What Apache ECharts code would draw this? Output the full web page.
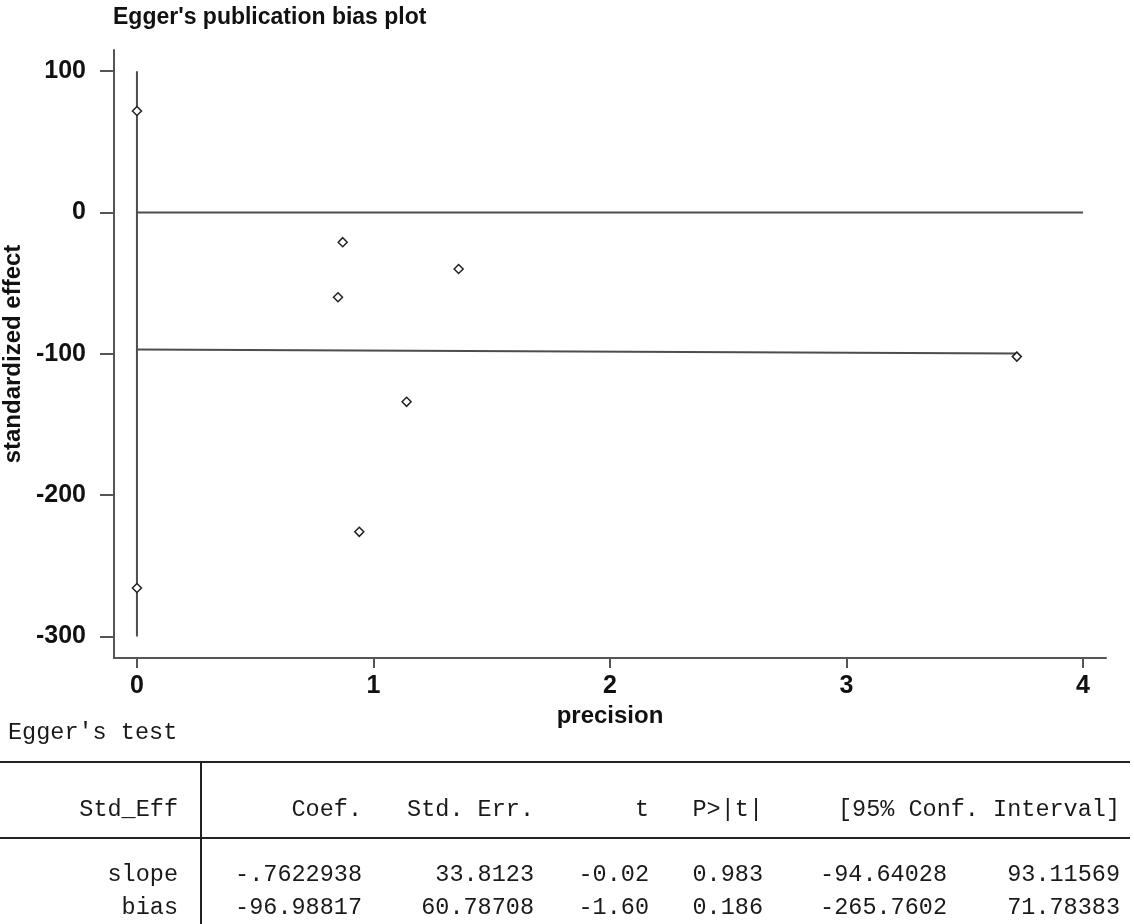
<!DOCTYPE html>
<html>
<head>
<meta charset="utf-8">
<title>Egger's publication bias plot</title>
<script src="https://cdn.jsdelivr.net/npm/echarts@6/dist/echarts.min.js"></script>
<style>
  html, body { margin: 0; padding: 0; background: #fff; }
  #main { width: 1134px; height: 924px; }
</style>
</head>
<body>
<div id="main"></div>
<script>
// study points: precision vs standardized effect
var precision = [0.87, 0.85, 1.36, 1.14, 0.94, 3.72];
var stdEffect = [-21, -60, -40, -134, -226, -102];
// diamonds drawn on the y axis line (x = 0)
var axisPoints = [71.8, -265.8];
// fitted Egger line, ends
var fitX = [0, 3.72];
var fitY = [-97.0, -99.8];
// reference lines
var zeroLineX = [0, 4];
var zeroLineY = [0, 0];
var vertLineY = [100, -300];
var xTicks = [0, 1, 2, 3, 4];
var yTicks = [100, 0, -100, -200, -300];

// Egger's test table
var tableHead = ['Std_Eff', 'Coef.', 'Std. Err.', 't', 'P>|t|', '[95% Conf. Interval]'];
var rowNames = ['slope', 'bias'];
var rowSlope = ['-.7622938', '33.8123', '-0.02', '0.983', '-94.64028', '93.11569'];
var rowBias = ['-96.98817', '60.78708', '-1.60', '0.186', '-265.7602', '71.78383'];

var mono = '"Liberation Mono", "DejaVu Sans Mono", monospace';
var sans = '"Liberation Sans", Arial, sans-serif';

function pairs(xs, ys) {
  var out = [];
  for (var i = 0; i < xs.length; i++) out.push([xs[i], ys[i]]);
  return out;
}

var scatterData = pairs(precision, stdEffect).concat(axisPoints.map(function (v) { return [0, v]; }));

// table as graphic elements
var colRight = [178, 362, 534, 649, 763, 947, 1120];
var txtStyle = { font: '23.5px ' + mono, fill: '#1a1a1a', textAlign: 'right', textVerticalAlign: 'middle' };
function txt(str, x, y, align) {
  var s = Object.assign({}, txtStyle, { text: str, x: x, y: y });
  if (align) s.textAlign = align;
  return { type: 'text', style: s, silent: true };
}
var graphics = [];
graphics.push(txt("Egger's test", 8, 733, 'left'));
graphics.push({ type: 'line', shape: { x1: 0, y1: 762, x2: 1130, y2: 762 }, style: { stroke: '#222', lineWidth: 2 } });
graphics.push({ type: 'line', shape: { x1: 0, y1: 838, x2: 1130, y2: 838 }, style: { stroke: '#222', lineWidth: 2 } });
graphics.push({ type: 'line', shape: { x1: 201, y1: 762, x2: 201, y2: 924 }, style: { stroke: '#222', lineWidth: 2 } });
var headY = 810;
graphics.push(txt(tableHead[0], colRight[0], headY));
graphics.push(txt(tableHead[1], colRight[1], headY));
graphics.push(txt(tableHead[2], colRight[2], headY));
graphics.push(txt(tableHead[3], colRight[3], headY));
graphics.push(txt(tableHead[4], colRight[4], headY));
graphics.push(txt(tableHead[5], colRight[6], headY));
[rowSlope, rowBias].forEach(function (row, r) {
  var y = 875 + r * 33;
  graphics.push(txt(rowNames[r], colRight[0], y));
  row.forEach(function (v, c) { graphics.push(txt(v, colRight[c + 1], y)); });
});

var myChart = echarts.init(document.getElementById('main'));
myChart.setOption({
  backgroundColor: '#fff',
  animation: false,
  title: {
    text: "Egger's publication bias plot",
    left: 113,
    top: 6,
    padding: 0,
    textStyle: { fontFamily: sans, fontSize: 23, fontWeight: 'bold', color: '#111' }
  },
  grid: {
    left: 114,
    right: 28,
    top: 50,
    bottom: 266,
    containLabel: false,
    outerBoundsMode: 'none'
  },
  xAxis: {
    type: 'value',
    min: -0.097,
    max: 4.097,
    name: 'precision',
    nameLocation: 'middle',
    nameGap: 43,
    nameTextStyle: { fontFamily: sans, fontSize: 24, fontWeight: 'bold', color: '#111' },
    axisLine: { show: true, onZero: false, lineStyle: { color: '#555', width: 2 } },
    axisTick: { show: true, length: 10, customValues: xTicks, lineStyle: { color: '#555', width: 2 } },
    axisLabel: { customValues: xTicks, margin: 16, fontFamily: sans, fontSize: 25, fontWeight: 'bold', color: '#111' },
    splitLine: { show: false }
  },
  yAxis: {
    type: 'value',
    min: -315.3,
    max: 115,
    name: 'standardized effect',
    nameLocation: 'middle',
    nameGap: 74,
    nameRotate: 90,
    nameTextStyle: { fontFamily: sans, fontSize: 24, fontWeight: 'bold', color: '#111' },
    axisLine: { show: true, onZero: false, lineStyle: { color: '#555', width: 2 } },
    axisTick: { show: true, length: 14, customValues: yTicks, lineStyle: { color: '#555', width: 2 } },
    axisLabel: { customValues: yTicks, margin: 28, fontFamily: sans, fontSize: 25, fontWeight: 'bold', color: '#111' },
    splitLine: { show: false }
  },
  series: [
    {
      name: 'zero',
      type: 'line',
      data: pairs(zeroLineX, zeroLineY),
      symbol: 'none',
      lineStyle: { color: '#4d4d4d', width: 2 },
      z: 1
    },
    {
      name: 'yline',
      type: 'line',
      data: [[0, vertLineY[0]], [0, vertLineY[1]]],
      symbol: 'none',
      lineStyle: { color: '#4d4d4d', width: 2 },
      z: 1
    },
    {
      name: 'fit',
      type: 'line',
      data: pairs(fitX, fitY),
      symbol: 'none',
      lineStyle: { color: '#4d4d4d', width: 2 },
      z: 1
    },
    {
      name: 'studies',
      type: 'scatter',
      data: scatterData,
      symbol: 'diamond',
      symbolSize: 9,
      itemStyle: { color: '#fff', borderColor: '#222', borderWidth: 1.5, opacity: 1 },
      z: 3
    }
  ],
  graphic: graphics
});
</script>
</body>
</html>
